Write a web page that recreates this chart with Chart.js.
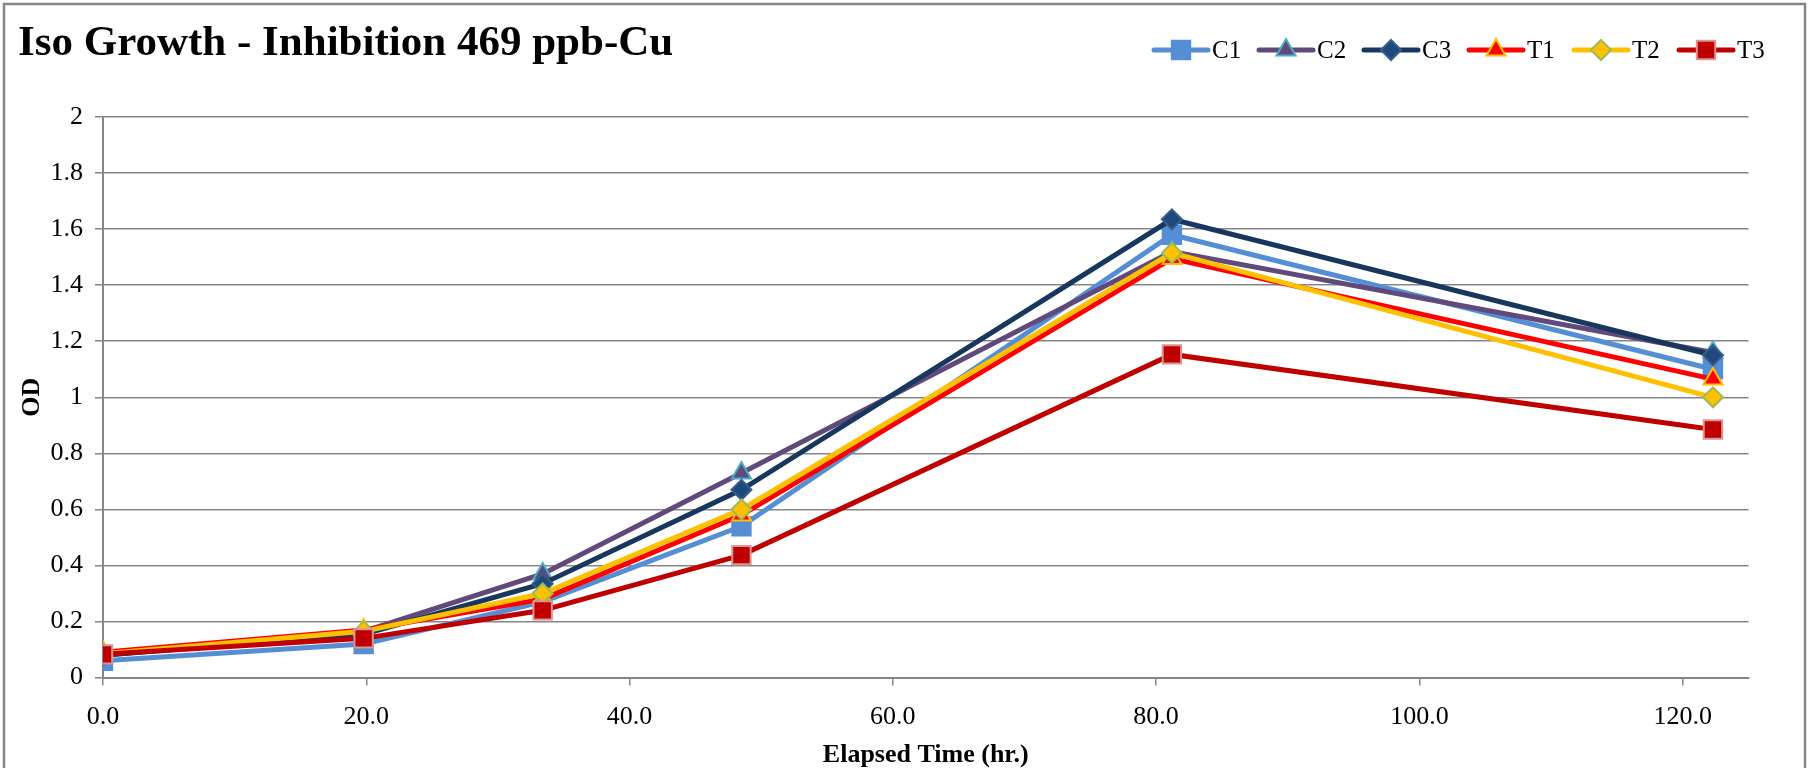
<!DOCTYPE html>
<html>
<head>
<meta charset="utf-8">
<script src="https://cdn.jsdelivr.net/npm/chart.js@4/dist/chart.umd.min.js"></script>
<style>
    html, body { margin: 0; padding: 0; background: #fff; }
    #wrap { width: 1810px; height: 768px; }
</style>
</head>
<body>
<div id="wrap"><canvas id="myChart" width="1810" height="768"></canvas></div>
<script>
// elapsed time (hr.) for every reading
hours = [0, 19.8, 33.4, 48.5, 81.2, 122.3];

// OD readings per culture
c1 = [0.06, 0.12, 0.27, 0.54, 1.58, 1.10];
c2 = [0.08, 0.165, 0.37, 0.73, 1.52, 1.16];
c3 = [0.08, 0.155, 0.335, 0.67, 1.635, 1.15];
t1 = [0.09, 0.17, 0.28, 0.58, 1.495, 1.065];
t2 = [0.085, 0.165, 0.30, 0.60, 1.515, 1.00];
t3 = [0.083, 0.14, 0.24, 0.437, 1.153, 0.885];

series_names = ['C1', 'C2', 'C3', 'T1', 'T2', 'T3'];
series_vals = [c1, c2, c3, t1, t2, t3];

x_ticks = [0, 20, 40, 60, 80, 100, 120];
y_ticks = [0, 0.2, 0.4, 0.6, 0.8, 1, 1.2, 1.4, 1.6, 1.8, 2];

chart_title = 'Iso Growth - Inhibition 469 ppb-Cu';

// line colour, marker shape, marker fill, marker edge, marker size
corlor_line = ['#558ED5', '#604A7B', '#17375E', '#FF0000', '#FFC000', '#C00000'];
marker_ls = ['rect', 'triangle', 'rectRot', 'triangle', 'rectRot', 'rect'];
marker_fill = ['#558ED5', '#604A7B', '#1F497D', '#FF0000', '#FFC000', '#C00000'];
marker_edge = ['#558ED5', '#4BACC6', '#385D8A', '#FFC000', '#9BBB59', '#D99694'];
marker_size = [13, 11, 10, 11, 10, 13];

var datasets = [];
for (let i = 0; i < series_names.length; i++) {
    datasets.push({
        label: series_names[i],
        data: hours.map((h, k) => ({ x: h, y: series_vals[i][k] })),
        showLine: true,
        borderColor: corlor_line[i],
        backgroundColor: corlor_line[i],
        borderWidth: 5,
        tension: 0,
        pointStyle: marker_ls[i],
        pointRadius: marker_size[i],
        pointBackgroundColor: marker_fill[i],
        pointBorderColor: marker_edge[i],
        pointBorderWidth: 2,
        order: series_names.length - 1 - i   // later series on top, like excel
    });
}

var font_name = '"Liberation Serif", "Times New Roman", serif';

// title, excel style legend and the outer frame
var headerPlugin = {
    id: 'header',
    afterDraw: function (chart) {
        var ctx = chart.ctx;
        ctx.save();
        ctx.strokeStyle = '#868686';
        ctx.lineWidth = 2.5;
        ctx.strokeRect(4, 4, 1801, 800);

        ctx.fillStyle = '#000';
        ctx.font = 'bold 43px ' + font_name;
        ctx.textBaseline = 'alphabetic';
        ctx.textAlign = 'left';
        ctx.fillText(chart_title, 18, 55);

        var ly = 50;
        ctx.font = '25px ' + font_name;
        ctx.textBaseline = 'middle';
        chart.data.datasets.forEach(function (ds, i) {
            var x0 = 1154 + i * 105;
            ctx.strokeStyle = ds.borderColor;
            ctx.lineWidth = 5;
            ctx.lineCap = 'round';
            ctx.beginPath();
            ctx.moveTo(x0, ly);
            ctx.lineTo(x0 + 54, ly);
            ctx.stroke();
            ctx.fillStyle = ds.pointBackgroundColor;
            ctx.strokeStyle = ds.pointBorderColor;
            ctx.lineWidth = ds.pointBorderWidth;
            Chart.helpers.drawPoint(ctx, { pointStyle: ds.pointStyle, radius: ds.pointRadius, borderWidth: ds.pointBorderWidth, rotation: 0 }, x0 + 27, ly);
            ctx.fillStyle = '#000';
            ctx.fillText(ds.label, x0 + 58, ly + 1);
        });
        ctx.restore();
    }
};

var canvas = document.getElementById('myChart');
var myChart = new Chart(canvas, {
    type: 'scatter',
    data: { datasets: datasets },
    plugins: [headerPlugin],
    options: {
        responsive: false,
        animation: false,
        events: [],
        layout: { padding: { top: 117, right: 61.5, bottom: 0, left: 0 } },
        plugins: {
            legend: { display: false },
            tooltip: { enabled: false }
        },
        scales: {
            x: {
                type: 'linear',
                position: 'bottom',
                min: 0,
                max: 125,
                afterBuildTicks: function (axis) {
                    axis.ticks = x_ticks.map(v => ({ value: v }));
                },
                afterFit: function (axis) { axis.height = 90.4; },
                ticks: {
                    color: '#000',
                    font: { family: font_name, size: 26 },
                    padding: 16,
                    maxRotation: 0,
                    callback: v => v.toFixed(1)
                },
                grid: { drawOnChartArea: false, drawTicks: true, tickLength: 8, color: '#868686', lineWidth: 1.5 },
                border: { color: '#868686', width: 2 },
                title: {
                    display: true,
                    text: 'Elapsed Time (hr.)',
                    color: '#000',
                    font: { family: font_name, size: 26, weight: 'bold', lineHeight: 1 },
                    padding: { top: 0, bottom: 0 }
                }
            },
            y: {
                min: 0,
                max: 2,
                afterBuildTicks: function (axis) {
                    axis.ticks = y_ticks.map(v => ({ value: v }));
                },
                afterFit: function (axis) { axis.width = 103; },
                ticks: {
                    color: '#000',
                    font: { family: font_name, size: 26 },
                    padding: 12,
                    callback: v => String(Math.round(v * 10) / 10)
                },
                grid: { color: '#868686', lineWidth: 1.5, tickLength: 8 },
                border: { color: '#868686', width: 2 },
                title: {
                    display: true,
                    text: 'OD',
                    color: '#000',
                    font: { family: font_name, size: 26, weight: 'bold', lineHeight: 1 },
                    padding: { top: 19, bottom: 0 }
                }
            }
        }
    }
});
</script>
</body>
</html>
